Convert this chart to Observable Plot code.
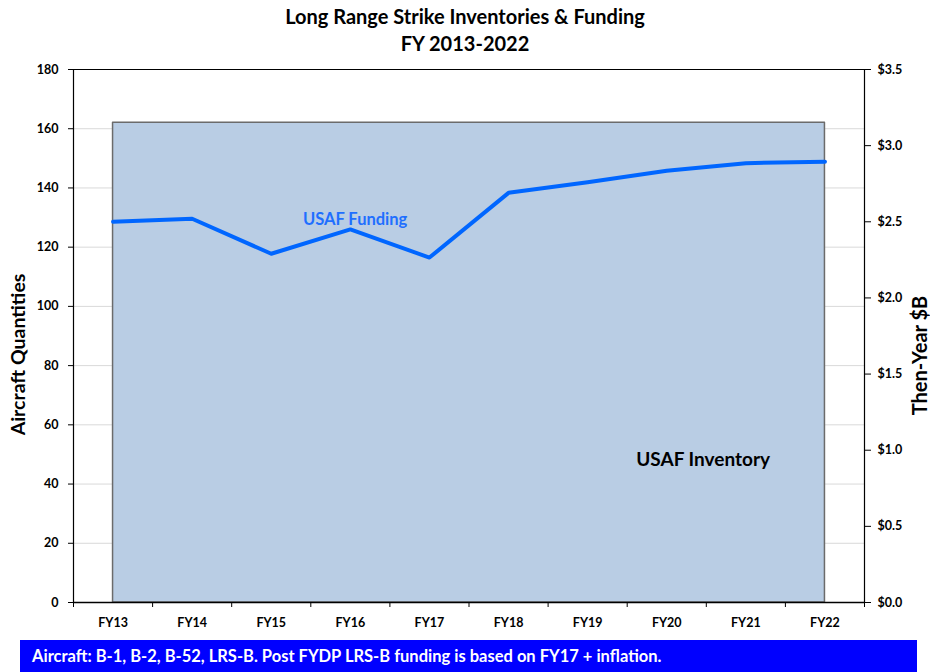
<!DOCTYPE html>
<html>
<head>
<meta charset="utf-8">
<script src="https://cdn.jsdelivr.net/npm/d3@7"></script>
<script src="https://cdn.jsdelivr.net/npm/@observablehq/plot@0.6"></script>
<style>
  body { margin: 0; background: #fff; width: 930px; height: 672px; overflow: hidden; font-family: Lato, "Liberation Sans", sans-serif; }
  #title { height: 56px; box-sizing: border-box; padding-top: 3px; text-align: center; font-weight: bold; font-size: 20px; line-height: 27px; color: #000; }
  #caption { position: absolute; top: 640px; left: 20px; width: 897px; height: 32px; box-sizing: border-box; padding-left: 12px; background: #0000ff; color: #fff; font-weight: bold; font-size: 16.5px; line-height: 32px; }
  #chart svg { display: block; }
</style>
</head>
<body>
<div id="title">Long Range Strike Inventories &amp; Funding<br>FY 2013-2022</div>
<div id="chart"></div>
<div id="caption">Aircraft: B-1, B-2, B-52, LRS-B. Post FYDP LRS-B funding is based on FY17 + inflation.</div>
<script>
const years = ["FY13","FY14","FY15","FY16","FY17","FY18","FY19","FY20","FY21","FY22"];
const inventory = [162,162,162,162,162,162,162,162,162,162];
const funding = [2.50,2.52,2.29,2.45,2.265,2.69,2.76,2.835,2.885,2.895];
const leftTicks = [0,20,40,60,80,100,120,140,160,180];
const rightTicks = [0,0.5,1.0,1.5,2.0,2.5,3.0,3.5];
const yMax = 180, fMax = 3.5;
const k = yMax / fMax;

const data = years.map((y, i) => ({i, year: y, inventory: inventory[i], funding: funding[i]}));
const idx = d3.range(years.length);
const bounds = d3.range(-0.5, years.length, 1);

const chart = Plot.plot({
  width: 930,
  height: 584,
  marginTop: 13,
  marginBottom: 38,
  marginLeft: 73,
  marginRight: 66,
  style: {fontFamily: "Lato, 'Liberation Sans', sans-serif", fontWeight: "bold", fontSize: "12.5px", color: "#000", background: "#fff"},
  x: {type: "linear", domain: [-0.5, years.length - 0.5]},
  y: {domain: [0, yMax]},
  marks: [
    Plot.ruleY(leftTicks.filter(v => v > 0 && v < yMax), {stroke: "#d9d9d9", strokeWidth: 1}),
    Plot.areaY(data, {x: "i", y: "inventory", fill: "#b9cde4", stroke: "#6b6b6b", strokeWidth: 1.5}),
    Plot.lineY(data, {x: "i", y: d => d.funding * k, stroke: "#0066ff", strokeWidth: 4}),
    Plot.ruleY([yMax], {stroke: "#000", strokeWidth: 1.2}),
    Plot.ruleY([0], {stroke: "#000", strokeWidth: 1.5}),
    Plot.ruleX([-0.5], {stroke: "#000", strokeWidth: 1.2}),
    Plot.ruleX([years.length - 0.5], {stroke: "#000", strokeWidth: 1.2}),
    Plot.axisY({ticks: leftTicks, tickSize: 5, tickPadding: 10, label: null}),
    Plot.axisY({anchor: "right", ticks: rightTicks.map(v => v * k), tickSize: 6, tickPadding: 7,
      tickFormat: d => "$" + (d / k).toFixed(1), label: null}),
    Plot.axisX({ticks: idx, tickSize: 0, tickPadding: 16, tickFormat: i => years[i], label: null}),
    Plot.axisX({ticks: bounds, tickSize: 5, tickFormat: () => "", label: null}),
    Plot.text(["Aircraft Quantities"], {frameAnchor: "left", textAnchor: "middle", rotate: -90, dx: -55, dy: 18.5, fontSize: 19.5, fontWeight: "bold", fill: "#000"}),
    Plot.text(["Then-Year $B"], {frameAnchor: "right", textAnchor: "middle", rotate: -90, dx: 56, dy: 19.5, fontSize: 20, fontWeight: "bold", fill: "#000"}),
    Plot.text(["USAF Funding"], {x: 3.06, y: 2.515 * k, fontSize: 16.5, fontWeight: "bold", fill: "#1f6fff"}),
    Plot.text(["USAF Inventory"], {x: 7.46, y: 48.3, fontSize: 19, fontWeight: "bold", fill: "#000"})
  ]
});
document.getElementById("chart").appendChild(chart);
</script>
</body>
</html>
